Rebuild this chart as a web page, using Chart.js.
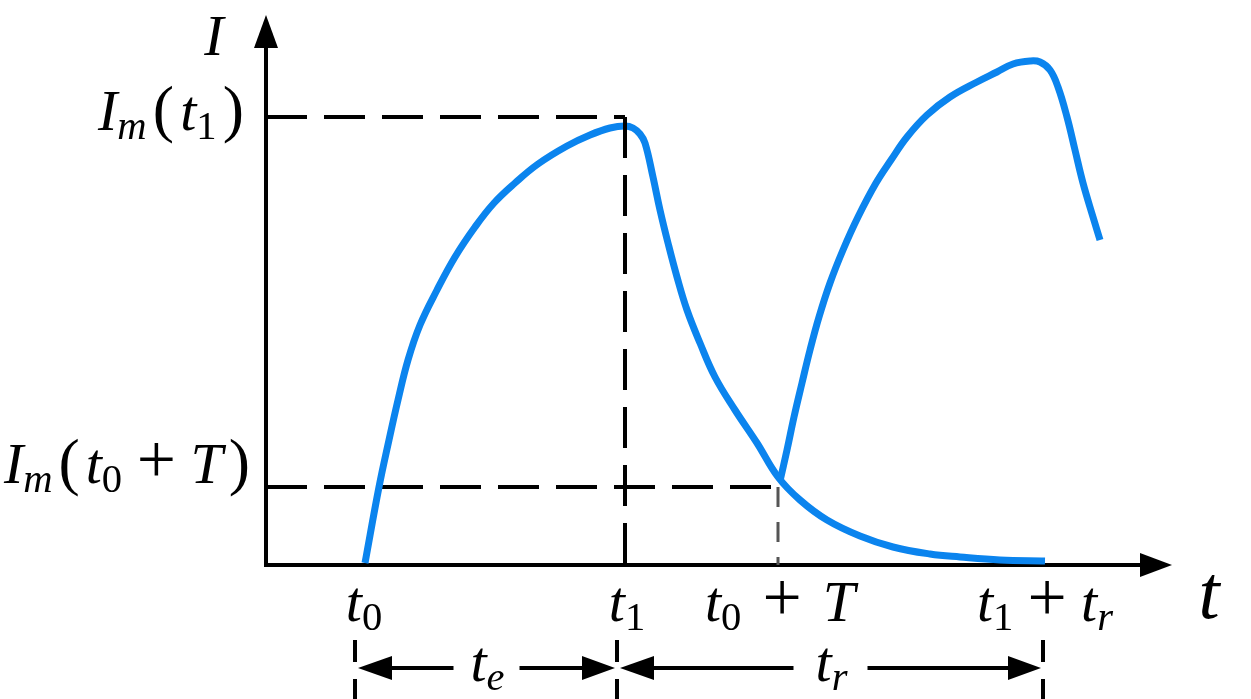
<!DOCTYPE html>
<html>
<head>
<meta charset="utf-8">
<script src="https://cdn.jsdelivr.net/npm/chart.js@4"></script>
<style>
  html, body { margin: 0; padding: 0; background: #fff; }
  canvas { display: block; }
</style>
</head>
<body>
<canvas id="chart" width="1251" height="699"></canvas>
<script>
// ============================
// DATA (t in arbitrary units, origin on the I axis)
// ============================

const tickValues = [0.96, 3.59, 5.12, 7.77];
const tickLabels = ["t_0", "t_1", "t_0 + T", "t_1 + t_r"];

const levelValues = [4.48, 0.78];
const levelLabels = ["I_m(t_1)", "I_m(t_0 + T)"];

const curve1T = [0.99, 1.13, 1.23, 1.32, 1.42, 1.54, 1.71, 1.89, 2.09, 2.28, 2.49, 2.72, 3.01, 3.24, 3.44, 3.59, 3.67, 3.74, 3.79, 3.87, 3.94, 4.02, 4.11, 4.21, 4.34, 4.49, 4.69, 4.91, 5.12, 5.34, 5.61, 5.94, 6.27, 6.64, 6.94, 7.34, 7.79];
const curve1I = [0.02, 0.78, 1.25, 1.65, 2.05, 2.40, 2.75, 3.08, 3.38, 3.62, 3.82, 4.01, 4.19, 4.30, 4.37, 4.39, 4.37, 4.31, 4.22, 3.88, 3.55, 3.22, 2.88, 2.55, 2.22, 1.88, 1.55, 1.22, 0.88, 0.65, 0.45, 0.29, 0.18, 0.11, 0.08, 0.05, 0.04];

const curve2T = [5.14, 5.21, 5.28, 5.36, 5.44, 5.53, 5.64, 5.77, 5.92, 6.10, 6.25, 6.41, 6.61, 6.84, 7.11, 7.31, 7.47, 7.64, 7.74, 7.84, 7.92, 8.01, 8.09, 8.17, 8.27, 8.34];
const curve2I = [0.84, 1.15, 1.48, 1.82, 2.15, 2.48, 2.82, 3.15, 3.48, 3.82, 4.05, 4.28, 4.50, 4.68, 4.83, 4.93, 5.01, 5.04, 5.03, 4.95, 4.78, 4.48, 4.15, 3.82, 3.48, 3.25];

const spanStart = [0.89, 3.51];
const spanEnd = [3.51, 7.77];
const spanLabels = ["t_e", "t_r"];

const tMax = 9.06;
const iMax = 5.5;

// ============================
// HELPERS
// ============================

const BLUE = "#0b84ee";

// pick the first serif face that is really installed
function pickFont(names) {
    const c = document.createElement("canvas").getContext("2d");
    const probe = "IImmtt0123+()Tre";
    for (const n of names) {
        c.font = "40px monospace";
        const a = c.measureText(probe).width;
        c.font = '40px "' + n + '", monospace';
        const b = c.measureText(probe).width;
        if (Math.abs(a - b) > 0.5) return '"' + n + '"';
    }
    return "serif";
}

const SERIF = pickFont(["Liberation Serif", "DejaVu Serif", "Noto Serif", "Times New Roman"]);

function toPoints(xs, ys) {
    return xs.map((x, i) => ({ x: x, y: ys[i] }));
}

function parseMath(src) {
    const parts = [];
    for (let i = 0; i < src.length; i++) {
        const c = src[i];
        if (c === " ") continue;
        if (c === "_") {
            const s = src[++i];
            parts.push({ text: s, italic: /[A-Za-z]/.test(s), sub: true });
            continue;
        }
        if (c === "+") {
            parts.push({ text: "+", italic: false, op: true });
            continue;
        }
        parts.push({ text: c, italic: /[A-Za-z]/.test(c), sub: false });
    }
    return parts;
}

// draws a small formula; with fit, the room around "+" and brackets grows to reach that width
function drawMath(ctx, src, x, y, size, align, fit) {
    const parts = parseMath(src);
    const isParen = p => p.text === "(" || p.text === ")";
    const fontOf = p => {
        let s = size;
        if (p.sub) s = size * 0.7;
        else if (p.op) s = size * 1.2;
        else if (isParen(p)) s = size * 1.1;
        return (p.italic ? "italic " : "") + s + "px " + SERIF;
    };
    const widths = parts.map(p => {
        ctx.font = fontOf(p);
        let w = ctx.measureText(p.text).width;
        if (p.op) w += size * 0.3;
        return w;
    });
    const loose = p => p.op || isParen(p);
    const gaps = parts.map((p, i) => (i < parts.length - 1 && (loose(p) || loose(parts[i + 1])) ? 1 : 0));
    const nGaps = gaps.reduce((a, b) => a + b, 0);
    let total = widths.reduce((a, b) => a + b, 0);
    let extra = 0;
    if (fit && nGaps > 0 && fit > total) {
        extra = (fit - total) / nGaps;
        total = fit;
    }
    let cx = align === "right" ? x - total : align === "left" ? x : x - total / 2;
    ctx.fillStyle = "#000";
    ctx.textAlign = "left";
    ctx.textBaseline = "alphabetic";
    parts.forEach((p, i) => {
        ctx.font = fontOf(p);
        const dx = p.op ? size * 0.15 : 0;
        ctx.fillText(p.text, cx + dx, p.sub ? y + size * 0.16 : y);
        cx += widths[i] + extra * gaps[i];
    });
}

function arrowHead(ctx, tx, ty, dir, len, half) {
    ctx.beginPath();
    if (dir === "up") {
        ctx.moveTo(tx, ty);
        ctx.lineTo(tx - half, ty + len);
        ctx.lineTo(tx + half, ty + len);
    } else if (dir === "right") {
        ctx.moveTo(tx, ty);
        ctx.lineTo(tx - len, ty - half);
        ctx.lineTo(tx - len, ty + half);
    } else {
        ctx.moveTo(tx, ty);
        ctx.lineTo(tx + len, ty - half);
        ctx.lineTo(tx + len, ty + half);
    }
    ctx.closePath();
    ctx.fill();
}

// ============================
// AXES, BRACKETS AND LABELS
// ============================

const diagramPlugin = {
    id: "diagram",
    beforeDatasetsDraw(chart) {
        const ctx = chart.ctx;
        const xs = chart.scales.x;
        const ys = chart.scales.y;
        const x0 = xs.getPixelForValue(0);
        const y0 = ys.getPixelForValue(0);
        const xEnd = xs.getPixelForValue(tMax);
        const yEnd = ys.getPixelForValue(iMax);

        ctx.save();
        ctx.strokeStyle = "#000";
        ctx.fillStyle = "#000";
        ctx.lineWidth = 4;
        ctx.beginPath();
        ctx.moveTo(x0, yEnd + 20);
        ctx.lineTo(x0, y0);
        ctx.lineTo(xEnd - 20, y0);
        ctx.stroke();
        arrowHead(ctx, x0, yEnd, "up", 33, 12);
        arrowHead(ctx, xEnd, y0, "right", 32, 12);
        ctx.restore();
    },
    afterDatasetsDraw(chart) {
        const ctx = chart.ctx;
        const xs = chart.scales.x;
        const ys = chart.scales.y;
        const x0 = xs.getPixelForValue(0);
        const y0 = ys.getPixelForValue(0);
        const size = 58;

        ctx.save();

        // bracket arrows under the axis
        const by = y0 + 103;
        ctx.strokeStyle = "#000";
        ctx.fillStyle = "#000";
        ctx.lineWidth = 4;
        spanLabels.forEach((lab, i) => {
            const a = xs.getPixelForValue(spanStart[i]) + 3;
            const b = xs.getPixelForValue(spanEnd[i]) - 2;
            const mid = (a + b) / 2;
            const gap = i === 0 ? 33 : 37;
            ctx.beginPath();
            ctx.moveTo(a + 30, by);
            ctx.lineTo(mid - gap, by);
            ctx.moveTo(mid + gap, by);
            ctx.lineTo(b - 30, by);
            ctx.stroke();
            arrowHead(ctx, a, by, "left", 34, 12);
            arrowHead(ctx, b, by, "right", 33, 12);
            drawMath(ctx, lab, mid + 1, by + 13, size, "center");
        });

        // time labels
        const tickFit = [0, 0, 150, 136];
        tickLabels.forEach((lab, i) => {
            drawMath(ctx, lab, xs.getPixelForValue(tickValues[i]) + 2, y0 + 56, size, "center", tickFit[i]);
        });

        // level labels
        const levelShift = [13, -4];
        const levelFit = [146, 246];
        const levelRight = [244, 250];
        levelLabels.forEach((lab, i) => {
            drawMath(ctx, lab, levelRight[i], ys.getPixelForValue(levelValues[i]) + levelShift[i], size, "right", levelFit[i]);
        });

        // axis names
        drawMath(ctx, "I", x0 - 52, ys.getPixelForValue(iMax) + 40, size, "center");
        drawMath(ctx, "t", xs.getPixelForValue(tMax) + 37, y0 + 53, 76, "center");

        ctx.restore();
    }
};

// ============================
// CHART
// ============================

const dashed = {
    borderColor: "#000",
    borderWidth: 4,
    borderDash: [41, 17],
    pointRadius: 0,
    clip: false
};

const solidCurve = {
    borderColor: BLUE,
    borderWidth: 7,
    pointRadius: 0,
    tension: 0.4,
    clip: false,
    order: 1
};

new Chart(document.getElementById("chart"), {
    type: "line",
    data: {
        datasets: [
            Object.assign({}, dashed, {
                data: [{ x: tickValues[1], y: levelValues[0] }, { x: tickValues[1], y: 0 }],
                order: 0
            }),
            Object.assign({}, solidCurve, { data: toPoints(curve1T, curve1I) }),
            Object.assign({}, solidCurve, { data: toPoints(curve2T, curve2I) }),
            Object.assign({}, dashed, {
                data: [{ x: 0, y: levelValues[0] }, { x: tickValues[1], y: levelValues[0] }],
                order: 2
            }),
            Object.assign({}, dashed, {
                data: [{ x: 0, y: levelValues[1] }, { x: tickValues[2], y: levelValues[1] }],
                order: 2
            }),
            Object.assign({}, dashed, {
                data: [{ x: tickValues[2], y: levelValues[1] }, { x: tickValues[2], y: 0 }],
                borderColor: "#555",
                borderWidth: 3,
                borderDash: [20, 15],
                order: 2
            }),
            // markers under the axis for the bracket ends
            ...[spanStart[0], spanStart[1], spanEnd[1]].map(v => Object.assign({}, dashed, {
                data: [{ x: v, y: -0.75 }, { x: v, y: -1.34 }],
                borderDash: [22, 17],
                order: 2
            }))
        ]
    },
    options: {
        responsive: false,
        animation: false,
        layout: {
            padding: { left: 266, right: 79, top: 15, bottom: 134 }
        },
        plugins: {
            legend: { display: false },
            tooltip: { enabled: false }
        },
        scales: {
            x: { type: "linear", min: 0, max: tMax, display: false },
            y: { type: "linear", min: 0, max: iMax, display: false }
        }
    },
    plugins: [diagramPlugin]
});
</script>
</body>
</html>
